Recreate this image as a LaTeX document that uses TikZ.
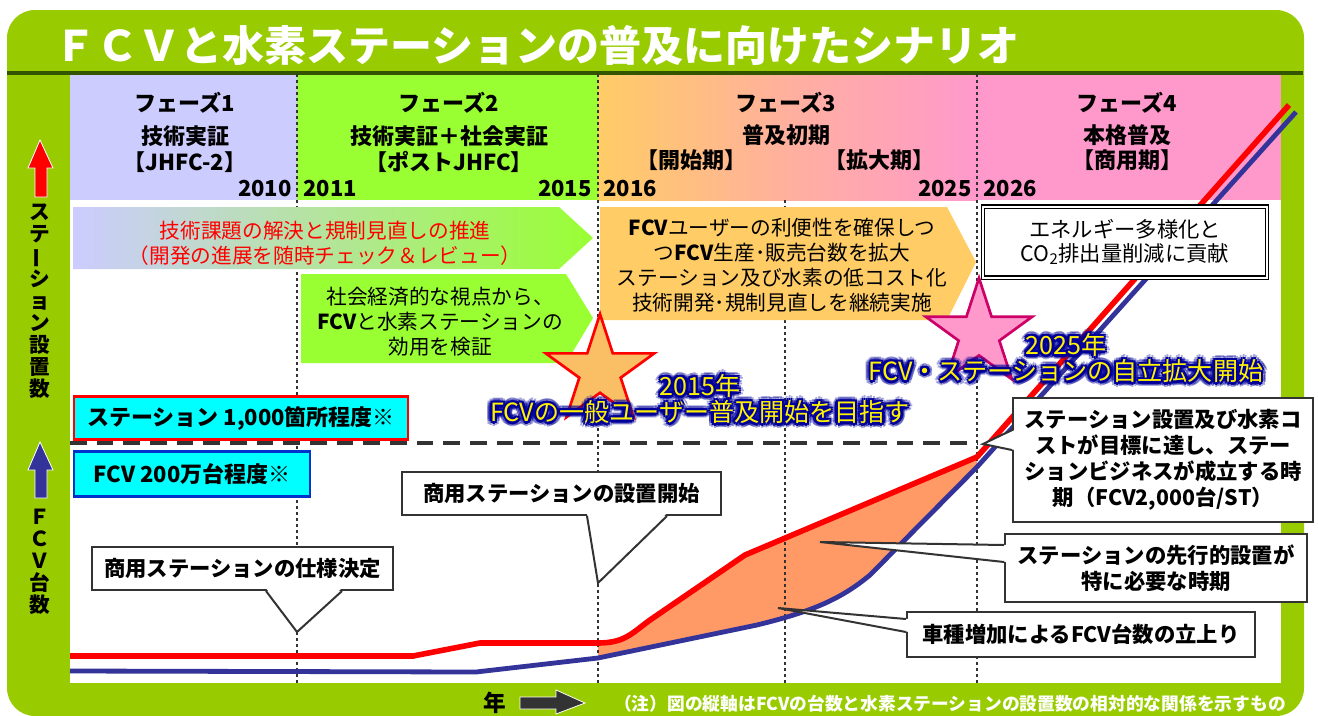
\documentclass[tikz,border=0pt]{standalone}
\usepackage{fontspec}
\setmainfont{Noto Sans CJK JP}
\usetikzlibrary{calc,shapes.geometric}
\definecolor{frameC}{RGB}{153,204,0}
\definecolor{ruleC}{RGB}{51,85,0}
\definecolor{phaseA}{RGB}{204,204,255}
\definecolor{phaseB}{RGB}{153,255,51}
\definecolor{phaseC}{RGB}{255,204,102}
\definecolor{phaseD}{RGB}{255,153,204}
\definecolor{stationC}{RGB}{255,0,0}
\definecolor{fcvC}{RGB}{51,51,153}
\definecolor{gapC}{RGB}{255,153,102}
\definecolor{dotC}{RGB}{51,51,51}
\definecolor{glowC}{RGB}{0,0,153}
\definecolor{starA}{RGB}{250,190,100}
\definecolor{starBline}{RGB}{204,0,102}
\definecolor{targetC}{RGB}{0,255,255}
\definecolor{targetB}{RGB}{0,51,204}
% yellow label with a blue halo
\newcommand{\glowlabel}[3]{%
  \foreach \a in {0,30,...,330}
    \node[glowtext,text=glowC,opacity=.35] at ($(#2)+(\a:5)$) {#3};
  \foreach \a in {0,45,...,315}
    \node[glowtext,text=glowC] at ($(#2)+(\a:2.5)$) {#3};
  \node[glowtext,text=yellow] (#1) at (#2) {#3};}
% white wedge from a box edge to a tip
\newcommand{\callptr}[4]{%
  \fill[white] ($(#1)+(#4)$) -- (#3) -- ($(#2)+(#4)$) -- cycle;
  \draw[ptrline] (#1) -- (#3) -- (#2);}

\begin{document}
\begin{tikzpicture}[x=0.75pt,y=-0.75pt,
  sz/.style 2 args={minimum width=#1*0.75pt,minimum height=#2*0.75pt},
  titletext/.style={text=white,font=\fontsize{31.5}{34}\selectfont\bfseries,inner sep=0pt},
  hdr/.style={font=\fontsize{16.5}{18}\selectfont\bfseries,inner sep=0pt},
  bodytext/.style={font=\fontsize{15.5}{18.8}\selectfont,align=center,inner sep=0pt},
  divline/.style={dotC,line width=1.9pt,dash pattern=on 2.2pt off 2.3pt},
  refline/.style={dotC,line width=3pt,dash pattern=on 12.5pt off 7.5pt},
  targetbox/.style={fill=targetC,line width=1.6pt,inner sep=0pt,font=\fontsize{16.5}{18}\selectfont\bfseries},
  callout/.style={draw=black!80,fill=white,line width=1.5pt,inner sep=0pt,align=center,font=\fontsize{16}{19.5}\selectfont\bfseries},
  ptrline/.style={black!80,line width=1.5pt},
  glowtext/.style={font=\fontsize{18.8}{19.5}\selectfont,align=center,inner sep=0pt},
  vtext/.style={font=\fontsize{15.5}{16.5}\selectfont\bfseries,align=center,inner sep=0pt},
  starnode/.style={star,star points=5,star point ratio=2.618,inner sep=0pt,line width=2pt}]
  \useasboundingbox (0,0) rectangle (1318,715);
  \fill[white] (0,0) rectangle (1318,715);
  % frame and title
  \fill[frameC,rounded corners=21pt] (7,10) rectangle (1304,716);
  \node[titletext] (title) at (537,45) {ＦＣＶと水素ステーションの普及に向けたシナリオ};
  \draw[ruleC,line width=3pt] (7,73) -- (1303,73);
  \fill[white] (70,75) rectangle (1281,683);
  % phase bands
  \fill[phaseA] (70,75) rectangle (297,200);
  \fill[phaseB] (297,75) rectangle (598,200);
  \shade[left color=phaseC,right color=phaseD,middle color=phaseD!55!phaseC] (598,75) rectangle (977,200);
  \fill[phaseD] (977,75) rectangle (1281,200);
  \node[hdr] (ph1) at (185,103) {フェーズ1};
  \node[hdr] (ph1a) at (185,136) {技術実証};
  \node[hdr] (ph1b) at (185,162) {【JHFC-2】};
  \node[hdr,anchor=east] (y2010) at (292,189) {2010};
  \node[hdr] (ph2) at (449,103) {フェーズ2};
  \node[hdr] (ph2a) at (449,136) {技術実証＋社会実証};
  \node[hdr] (ph2b) at (449,162) {【ポストJHFC】};
  \node[hdr,anchor=west] (y2011) at (303,189) {2011};
  \node[hdr,anchor=east] (y2015) at (592,189) {2015};
  \node[hdr] (ph3) at (786,103) {フェーズ3};
  \node[hdr] (ph3a) at (786,135) {普及初期};
  \node[hdr] (ph3b) at (691,160) {【開始期】};
  \node[hdr] (ph3c) at (879,160) {【拡大期】};
  \node[hdr,anchor=west] (y2016) at (603,189) {2016};
  \node[hdr,anchor=east] (y2025) at (972,189) {2025};
  \node[hdr] (ph4) at (1127,103) {フェーズ4};
  \node[hdr] (ph4a) at (1127,135) {本格普及};
  \node[hdr] (ph4b) at (1127,160) {【商用期】};
  \node[hdr,anchor=west] (y2026) at (983,189) {2026};
  % gap between stations and cars
  \fill[gapC] (598,643) .. controls (625,643) and (632,633) .. (650,620) -- (745,555)
    -- (977,457) -- (977,467) -- (870,575) .. controls (840,600) and (810,612) .. (757,625)
    -- (598,658) -- cycle;
  \foreach \xx in {297,598,977}
    \draw[divline] (\xx,74) -- (\xx,683);
  \draw[divline] (785,200) -- (785,683);
  \draw[refline] (70,443) -- (977,443);
  % FCV count and station count
  \draw[fcvC,line width=3.6pt,line join=round] (70,671) -- (476,672) -- (598,658) -- (757,625)
    .. controls (810,612) and (840,600) .. (870,575) -- (977,467) -- (1296,112);
  \draw[stationC,line width=4.2pt,line join=round] (70,656) -- (413,656) -- (480,643) -- (598,643)
    .. controls (625,643) and (632,633) .. (650,620) -- (745,555) -- (977,457) -- (1289,105);
  % arrow boxes
  \shade[left color=phaseA,right color=phaseB] (73,207) -- (559,207) -- (593,238) -- (559,269) -- (73,269) -- cycle;
  \node[bodytext,text=stationC] (task) at (325,243) {技術課題の解決と規制見直しの推進\\（開発の進展を随時チェック＆レビュー）};
  \fill[phaseB] (301,274) -- (566,274) -- (593,318) -- (566,363) -- (301,363) -- cycle;
  \node[bodytext] (social) at (440,322) {社会経済的な視点から、\\\textbf{FCV}と水素ステーションの\\効用を検証};
  \fill[phaseC] (600,207) -- (947,207) -- (976,262) -- (947,320) -- (600,320) -- cycle;
  \node[bodytext] (spread) at (782,265) {\textbf{FCV}ユーザーの利便性を確保しつ\\つ\textbf{FCV}生産･販売台数を拡大\\ステーション及び水素の低コスト化\\技術開発･規制見直しを継続実施};
  \node[draw,fill=white,double=white,double distance=1.5pt,line width=0.8pt,sz={284}{71},align=center,
    font=\fontsize{16}{17.5}\selectfont] (contrib) at (1125,242) {エネルギー多様化と\\CO\textsubscript{2}排出量削減に貢献};
  % milestones
  \node[starnode,sz={114}{114},fill=starA,draw=stationC] (star15) at (600,371) {};
  \node[starnode,sz={112}{112},fill=phaseD,draw=starBline] (star25) at (979,334) {};
  \glowlabel{goal15}{700,399}{2015年\\FCVの一般ユーザー普及開始を目指す}
  \glowlabel{goal25}{1066,358}{2025年\\FCV・ステーションの自立拡大開始}
  % targets
  \node[targetbox,draw=stationC,sz={334}{43}] (stnGoal) at (241,418) {ステーション 1,000箇所程度※};
  \node[targetbox,draw=targetB,sz={236}{45}] (fcvGoal) at (192,474) {FCV 200万台程度※};
  % callouts
  \node[callout,sz={301}{43}] (spec) at (242.5,568.5) {商用ステーションの仕様決定};
  \coordinate (specTip) at (297,632);
  \coordinate (specL) at ($(spec.south)+(23.5,0)$);
  \coordinate (specR) at ($(spec.south)+(99.5,0)$);
  \callptr{specL}{specR}{specTip}{0,-3}
  \node[callout,sz={319}{43}] (install) at (561.5,493.5) {商用ステーションの設置開始};
  \coordinate (installTip) at (598,583);
  \coordinate (installL) at ($(install.south)+(25.5,0)$);
  \coordinate (installR) at ($(install.south)+(105.5,0)$);
  \callptr{installL}{installR}{installTip}{0,-3}
  \node[callout,sz={300}{124}] (viable) at (1163,460) {ステーション設置及び水素コ\\ストが目標に達し、ステー\\ションビジネスが成立する時\\期（FCV2,000台/ST）};
  \coordinate (viableTip) at (983,444);
  \coordinate (viableU) at ($(viable.west)+(0,-30)$);
  \coordinate (viableD) at ($(viable.west)+(0,-10)$);
  \callptr{viableU}{viableD}{viableTip}{3,0}
  \node[callout,sz={302}{68}] (advance) at (1156,568) {ステーションの先行的設置が\\特に必要な時期};
  \coordinate (advanceTip) at (820,542);
  \coordinate (advanceU) at ($(advance.west)+(0,-23)$);
  \coordinate (advanceD) at ($(advance.west)+(0,-6)$);
  \callptr{advanceU}{advanceD}{advanceTip}{3,0}
  \node[callout,sz={348}{45}] (models) at (1081,634.5) {車種増加によるFCV台数の立上り};
  \coordinate (modelsTip) at (778,608);
  \coordinate (modelsU) at ($(models.west)+(0,-15.5)$);
  \coordinate (modelsD) at ($(models.west)+(0,-2.5)$);
  \callptr{modelsU}{modelsD}{modelsTip}{3,0}
  % vertical axis labels
  \fill[stationC,draw=white,line width=.6pt] (40,140) -- (53,168) -- (47,168) -- (47,197) -- (35,197) -- (35,168) -- (28,168) -- cycle;
  \node[vtext] (stnAxis) at (40,301) {ス\\テ\\\rotatebox[origin=c]{90}{ー}\\シ\\ョ\\ン\\設\\置\\数};
  \fill[fcvC,draw=white,line width=.6pt] (40,442) -- (53,470) -- (47,470) -- (47,498) -- (35,498) -- (35,470) -- (28,470) -- cycle;
  \node[vtext] (fcvAxis) at (40,562) {Ｆ\\Ｃ\\Ｖ\\台\\数};
  % time axis and note
  \node[font=\fontsize{17}{18}\selectfont\bfseries,inner sep=0pt] (yearLbl) at (495,703) {年};
  \fill[dotC,draw=white,line width=.6pt] (520,697) -- (556,697) -- (556,690) -- (585,703) -- (556,714) -- (556,709) -- (520,709) -- cycle;
  \node[text=white,font=\fontsize{13.3}{15}\selectfont\bfseries,inner sep=0pt] (note) at (950,704)
    {（注）図の縦軸はFCVの台数と水素ステーションの設置数の相対的な関係を示すもの};
\end{tikzpicture}
\end{document}
